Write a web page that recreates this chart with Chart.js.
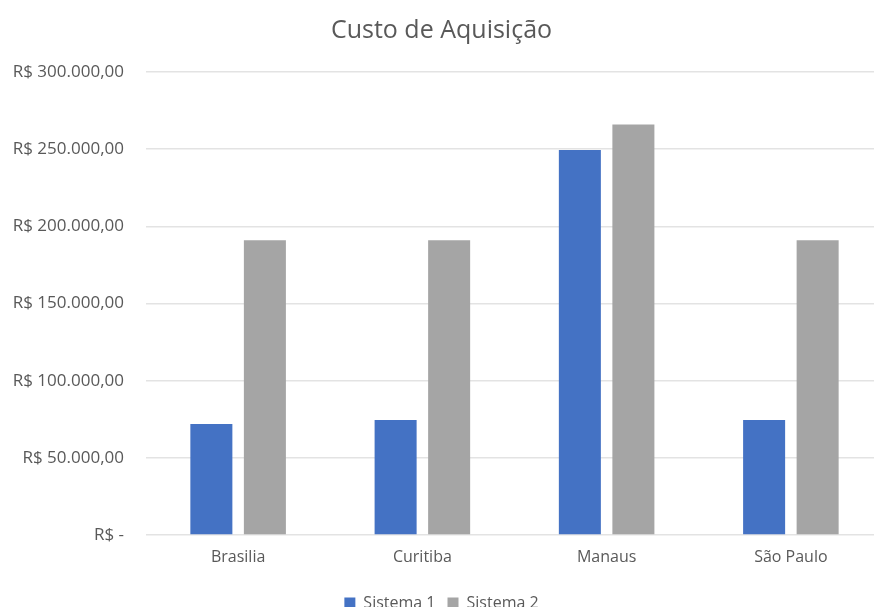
<!DOCTYPE html>
<html>
<head>
<meta charset="utf-8">
<script src="https://cdn.jsdelivr.net/npm/chart.js@4"></script>
<style>
  html, body { margin: 0; padding: 0; background: #ffffff; overflow: hidden; width: 874px; height: 607px; }
  #wrap { position: absolute; left: 0; top: 0; width: 893px; height: 621px; }
</style>
</head>
<body>
<div id="wrap"><canvas id="c" width="893" height="621"></canvas></div>
<script>
const categories = ["Brasilia", "Curitiba", "Manaus", "São Paulo"];
const seriesNames = ["Sistema 1", "Sistema 2"];
const sistema1 = [72000, 74500, 249500, 74500];
const sistema2 = [191000, 191000, 266000, 191000];
const yTickValues = [0, 50000, 100000, 150000, 200000, 250000, 300000];
const yTickLabels = ["R$ -", "R$ 50.000,00", "R$ 100.000,00", "R$ 150.000,00", "R$ 200.000,00", "R$ 250.000,00", "R$ 300.000,00"];
const titleText = "Custo de Aquisição";

const FONT = "'Open Sans', 'Noto Sans', sans-serif";
const TXT = "#595959";

new Chart(document.getElementById('c'), {
  type: 'bar',
  data: {
    labels: categories,
    datasets: [
      { label: seriesNames[0], data: sistema1, backgroundColor: '#4472C4', categoryPercentage: 0.581, barPercentage: 0.785 },
      { label: seriesNames[1], data: sistema2, backgroundColor: '#A5A5A5', categoryPercentage: 0.581, barPercentage: 0.785 }
    ]
  },
  options: {
    responsive: false,
    animation: false,
    devicePixelRatio: 1,
    layout: { padding: { left: 0, right: 10, top: 0, bottom: 0 } },
    plugins: {
      title: {
        display: true,
        text: titleText,
        color: TXT,
        font: { family: FONT, size: 25, weight: 'normal' },
        padding: { top: 16, bottom: 26 }
      },
      legend: {
        position: 'bottom',
        labels: {
          color: TXT,
          font: { family: FONT, size: 16 },
          boxWidth: 11,
          boxHeight: 11,
          padding: 12
        }
      },
      tooltip: { enabled: false }
    },
    scales: {
      x: {
        afterFit: (s) => { s.height = 48; },
        grid: { display: false, drawTicks: false },
        border: { display: false },
        ticks: { color: TXT, font: { family: FONT, size: 16 }, padding: 13 }
      },
      y: {
        min: 0,
        max: 300000,
        afterFit: (s) => { s.width = 146; },
        afterBuildTicks: (s) => { s.ticks = yTickValues.map(v => ({ value: v })); },
        grid: { color: '#E3E3E3', lineWidth: 1.5, drawTicks: false },
        border: { display: false },
        ticks: {
          color: TXT,
          font: { family: FONT, size: 17 },
          padding: 22,
          callback: (v) => { const i = yTickValues.indexOf(v); return i >= 0 ? yTickLabels[i] : ''; }
        }
      }
    }
  }
});
</script>
</body>
</html>
